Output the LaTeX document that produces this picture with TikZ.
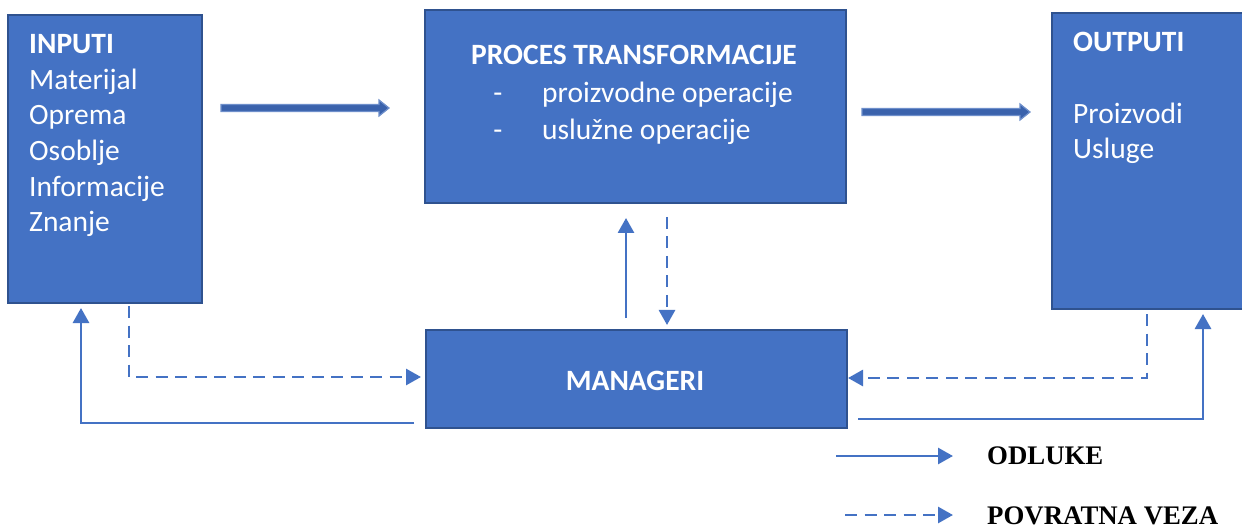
\documentclass[tikz,border=0pt]{standalone}
\usepackage{fontspec}
\setmainfont{Carlito}
\newfontfamily\legfont{Liberation Serif}
\usetikzlibrary{arrows.meta,calc}
\definecolor{boxblue}{HTML}{4472C4}
\definecolor{boxedge}{HTML}{2F528F}
\definecolor{arrblue}{HTML}{4472C4}
\definecolor{blockfill}{HTML}{3A62AC}
\definecolor{blockedge}{HTML}{6E8FCB}
\begin{document}
\begin{tikzpicture}[x=1pt,y=-1pt,
  box/.style={draw=boxedge, line width=2pt, fill=boxblue, anchor=north west, inner sep=0pt},
  txt/.style={inner sep=0pt, anchor=base west, text=white, font=\fontsize{29.5}{34}\selectfont},
  ttl/.style={txt, font=\fontsize{29.5}{34}\selectfont\bfseries},
  solidarr/.style={draw=arrblue, line width=2.8pt, -{Triangle[length=15pt,width=16pt]}},
  dasharr/.style={solidarr, dash pattern=on 12pt off 7.5pt},
  blockarr/.style={fill=blockfill, draw=blockedge, line width=1.2pt, line join=miter},
  legtxt/.style={inner sep=0pt, anchor=base west, text=black, font=\legfont\fontsize{26.8}{30}\selectfont\bfseries}
]
\clip (0,0) rectangle (1242,529);
\fill[white] (0,0) rectangle (1242,529);

% boxes
\node[box, minimum width=194pt, minimum height=288pt] (inp) at (7,14) {};
\node[box, minimum width=421pt, minimum height=193pt] (proc) at (424,9) {};
\node[box, minimum width=200pt, minimum height=296pt] (outp) at (1051,12) {};
\node[box, minimum width=421pt, minimum height=98pt] (mgr) at (425,329) {};

% INPUTI texts
\node[ttl] (t1) at (29,54) {INPUTI};
\node[txt] (t2) at (29,90) {Materijal};
\node[txt] (t3) at (29,125) {Oprema};
\node[txt] (t4) at (29,161) {Osoblje};
\node[txt] (t5) at (29,197) {Informacije};
\node[txt] (t6) at (29,232) {Znanje};

% PROCES texts
\node[ttl, anchor=base] (p1) at (634,65) {PROCES TRANSFORMACIJE};
\node[txt, anchor=base] (p2d) at (498,103) {-};
\node[txt] (p2) at (542,103) {proizvodne operacije};
\node[txt, anchor=base] (p3d) at (498,140) {-};
\node[txt] (p3) at (542,140) {uslužne operacije};

% OUTPUTI texts
\node[ttl] (o1) at (1073,52) {OUTPUTI};
\node[txt] (o2) at (1073,124) {Proizvodi};
\node[txt] (o3) at (1073,159) {Usluge};

% MANAGERI
\node[ttl, anchor=base] (m1) at (635,390) {MANAGERI};

% block arrows
\coordinate (ba1s) at (221,108);
\coordinate (ba1e) at (389,108);
\coordinate (ba2s) at (862,112);
\coordinate (ba2e) at (1030,112);
\draw[blockarr] ($(ba1s)+(0,-3.5)$) -- ($(ba1e)+(-10,-3.5)$) -- ($(ba1e)+(-10,-8)$) -- (ba1e) -- ($(ba1e)+(-10,8)$) -- ($(ba1e)+(-10,3.5)$) -- ($(ba1s)+(0,3.5)$) -- cycle;
\draw[blockarr] ($(ba2s)+(0,-3.5)$) -- ($(ba2e)+(-10,-3.5)$) -- ($(ba2e)+(-10,-8)$) -- (ba2e) -- ($(ba2e)+(-10,8)$) -- ($(ba2e)+(-10,3.5)$) -- ($(ba2s)+(0,3.5)$) -- cycle;

% middle arrows
\coordinate (mu1) at (626,318);
\coordinate (mu2) at (626,218);
\coordinate (md1) at (667,217);
\coordinate (md2) at (667,325);
\draw[solidarr] (mu1) -- (mu2);
\draw[dasharr] (md1) -- (md2);

% left feedback
\coordinate (lf1) at (129,306);
\coordinate (lf2) at (129,377);
\coordinate (lf3) at (421,377);
\draw[dasharr] (lf1) -- (lf2) -- (lf3);
% left decision
\coordinate (ld1) at (414,423);
\coordinate (ld2) at (81,423);
\coordinate (ld3) at (81,308);
\draw[solidarr] (ld1) -- (ld2) -- (ld3);

% right feedback
\coordinate (rf1) at (1147,314);
\coordinate (rf2) at (1147,378);
\coordinate (rf3) at (848,378);
\draw[dasharr] (rf1) -- (rf2) -- (rf3);
% right decision
\coordinate (rd1) at (858,419);
\coordinate (rd2) at (1203,419);
\coordinate (rd3) at (1203,314);
\draw[solidarr] (rd1) -- (rd2) -- (rd3);

% legend
\coordinate (lg1) at (836,456);
\coordinate (lg2) at (953,456);
\coordinate (lg3) at (845,515);
\coordinate (lg4) at (953,515);
\draw[solidarr] (lg1) -- (lg2);
\draw[dasharr] (lg3) -- (lg4);
\node[legtxt] (l1) at (987,464) {ODLUKE};
\node[legtxt] (l2) at (987,524) {POVRATNA VEZA};
\end{tikzpicture}
\end{document}
